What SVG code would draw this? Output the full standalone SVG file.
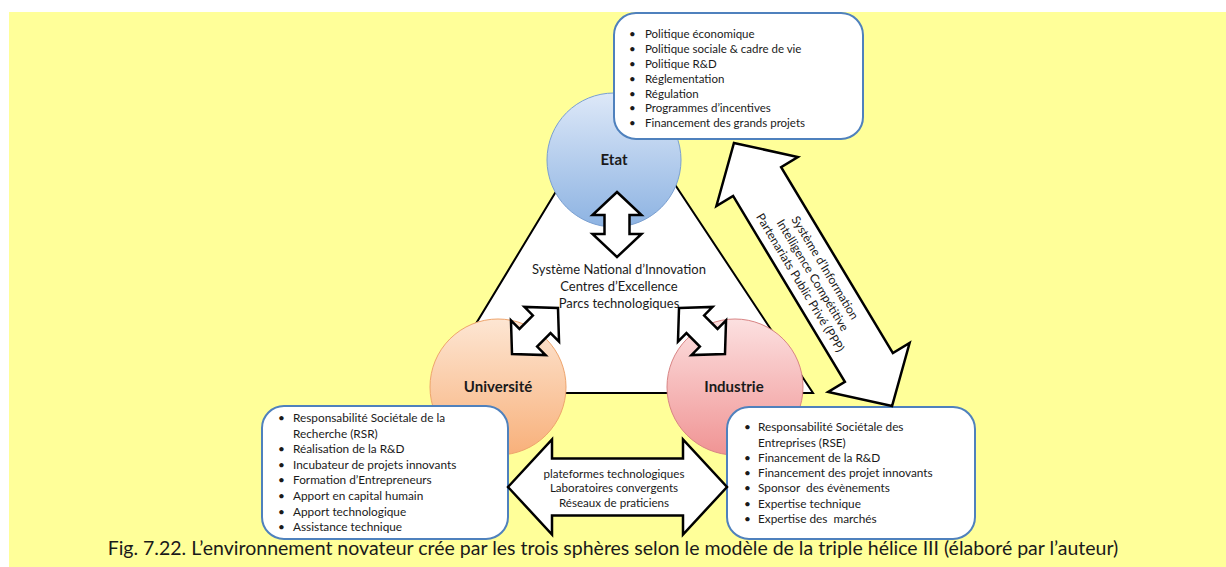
<svg xmlns="http://www.w3.org/2000/svg" width="1226" height="567" viewBox="0 0 1226 567">
<style>
  .t { font-family: Lato, "Open Sans", "DejaVu Sans", sans-serif; fill: #1a1a1a; }
  .box { fill: #ffffff; stroke: #4f81bd; stroke-width: 2; }
  .lbl { font-size: 15px; font-weight: bold; text-anchor: middle; }
  .li { font-size: 11.8px; }
  .li-top { font-size: 11.5px; }
  .mid { font-size: 13px; text-anchor: middle; }
  .arr { fill: #ffffff; stroke: #000000; stroke-width: 2.5; stroke-linejoin: miter; }
  .cap { font-size: 19.5px; text-anchor: middle; }
</style>
<defs>
  <linearGradient id="gEtat" x1="0" y1="0" x2="0" y2="1">
    <stop offset="0" stop-color="#dde8f8"/>
    <stop offset="1" stop-color="#8db3e2"/>
  </linearGradient>
  <linearGradient id="gUniv" x1="0" y1="0" x2="0" y2="1">
    <stop offset="0" stop-color="#fde6d3"/>
    <stop offset="1" stop-color="#f8b07a"/>
  </linearGradient>
  <linearGradient id="gInd" x1="0" y1="0" x2="0" y2="1">
    <stop offset="0" stop-color="#fce0e0"/>
    <stop offset="1" stop-color="#f09494"/>
  </linearGradient>
  <path id="smallArrow" d="M0,-32.5 L24.5,-9.5 L12.5,-9.5 L12.5,9.5 L24.5,9.5 L0,32.5 L-24.5,9.5 L-12.5,9.5 L-12.5,-9.5 L-24.5,-9.5 Z"/>
</defs>

<rect x="9" y="12" width="1217" height="555" fill="#ffff99"/>

<polygon id="triangle" points="615,94 434,393 813,393" fill="#ffffff" stroke="#000000" stroke-width="2"/>

<g id="node-etat">
  <circle cx="614" cy="160" r="67" fill="url(#gEtat)" stroke="#7a9fd0" stroke-width="1"/>
  <text class="t lbl" x="614" y="165">Etat</text>
</g>
<g id="node-universite">
  <circle cx="498" cy="387" r="68" fill="url(#gUniv)" stroke="#eea46c" stroke-width="1"/>
  <text class="t lbl" x="498" y="392">Université</text>
</g>
<g id="node-industrie">
  <circle cx="735" cy="387" r="68" fill="url(#gInd)" stroke="#d88484" stroke-width="1"/>
  <text class="t lbl" x="734" y="392">Industrie</text>
</g>

<g id="node-centre">
  <text class="t mid" x="619" y="274">Système National d’Innovation</text>
  <text class="t mid" x="619" y="291">Centres d’Excellence</text>
  <text class="t mid" x="619" y="308">Parcs technologiques</text>
</g>

<g id="box-etat">
  <rect class="box" x="614" y="13" width="249" height="126" rx="22"/>
  <g class="t li-top">
    <text x="629" y="38">•</text><text x="645" y="38">Politique économique</text>
    <text x="629" y="53">•</text><text x="645" y="53">Politique sociale &amp; cadre de vie</text>
    <text x="629" y="68">•</text><text x="645" y="68">Politique R&amp;D</text>
    <text x="629" y="83">•</text><text x="645" y="83">Réglementation</text>
    <text x="629" y="97.5">•</text><text x="645" y="97.5">Régulation</text>
    <text x="629" y="112">•</text><text x="645" y="112">Programmes d’incentives</text>
    <text x="629" y="127">•</text><text x="645" y="127">Financement des grands projets</text>
  </g>
</g>

<g id="box-universite">
  <rect class="box" x="262" y="406" width="246" height="133" rx="22"/>
  <g class="t li">
    <text x="278" y="422">•</text><text x="293" y="422">Responsabilité Sociétale de la</text>
    <text x="293" y="438">Recherche (RSR)</text>
    <text x="278" y="453">•</text><text x="293" y="453">Réalisation de la R&amp;D</text>
    <text x="278" y="469">•</text><text x="293" y="469">Incubateur de projets innovants</text>
    <text x="278" y="484">•</text><text x="293" y="484">Formation d’Entrepreneurs</text>
    <text x="278" y="500">•</text><text x="293" y="500">Apport en capital humain</text>
    <text x="278" y="516">•</text><text x="293" y="516">Apport technologique</text>
    <text x="278" y="531">•</text><text x="293" y="531">Assistance technique</text>
  </g>
</g>

<g id="box-industrie">
  <rect class="box" x="727" y="407" width="248" height="132" rx="22"/>
  <g class="t li">
    <text x="744" y="431">•</text><text x="758" y="431">Responsabilité Sociétale des</text>
    <text x="758" y="447">Entreprises (RSE)</text>
    <text x="744" y="461.5">•</text><text x="758" y="461.5">Financement de la R&amp;D</text>
    <text x="744" y="477">•</text><text x="758" y="477">Financement des projet innovants</text>
    <text x="744" y="492">•</text><text x="758" y="492" xml:space="preserve">Sponsor  des évènements</text>
    <text x="744" y="508">•</text><text x="758" y="508">Expertise technique</text>
    <text x="744" y="523">•</text><text x="758" y="523" xml:space="preserve">Expertise des  marchés</text>
  </g>
</g>

<g id="connectors">
  <use href="#smallArrow" class="arr" transform="translate(617,224.5)"/>
  <use href="#smallArrow" class="arr" transform="translate(535,331) rotate(45)"/>
  <use href="#smallArrow" class="arr" transform="translate(702,331) rotate(-45)"/>

  <g id="arrow-etat-industrie">
    <path class="arr" transform="translate(813,274.5) rotate(-31)" d="M0,-153.5 L47.5,-108.5 L28,-108.5 L28,108.5 L47.5,108.5 L0,153.5 L-47.5,108.5 L-28,108.5 L-28,-108.5 L-47.5,-108.5 Z"/>
    <g class="t" font-size="12" text-anchor="middle" transform="translate(813,275) rotate(59)">
      <text x="0" y="-10">Système d’Information</text>
      <text x="0" y="4.5">Intelligence Compétitive</text>
      <text x="0" y="19">Partenariats Public Privé (PPP)</text>
    </g>
  </g>

  <g id="arrow-universite-industrie">
    <path class="arr" d="M508,487 L552,439.5 L552,458.5 L683,458.5 L683,439.5 L727,487 L683,534.5 L683,515.5 L552,515.5 L552,534.5 Z"/>
    <g class="t" font-size="11.6" text-anchor="middle">
      <text x="614" y="477.5">plateformes technologiques</text>
      <text x="614" y="492">Laboratoires convergents</text>
      <text x="614" y="506.5">Réseaux de praticiens</text>
    </g>
  </g>
</g>

<text class="t cap" x="613" y="555">Fig. 7.22. L’environnement novateur crée par les trois sphères selon le modèle de la triple hélice III (élaboré par l’auteur)</text>
</svg>
